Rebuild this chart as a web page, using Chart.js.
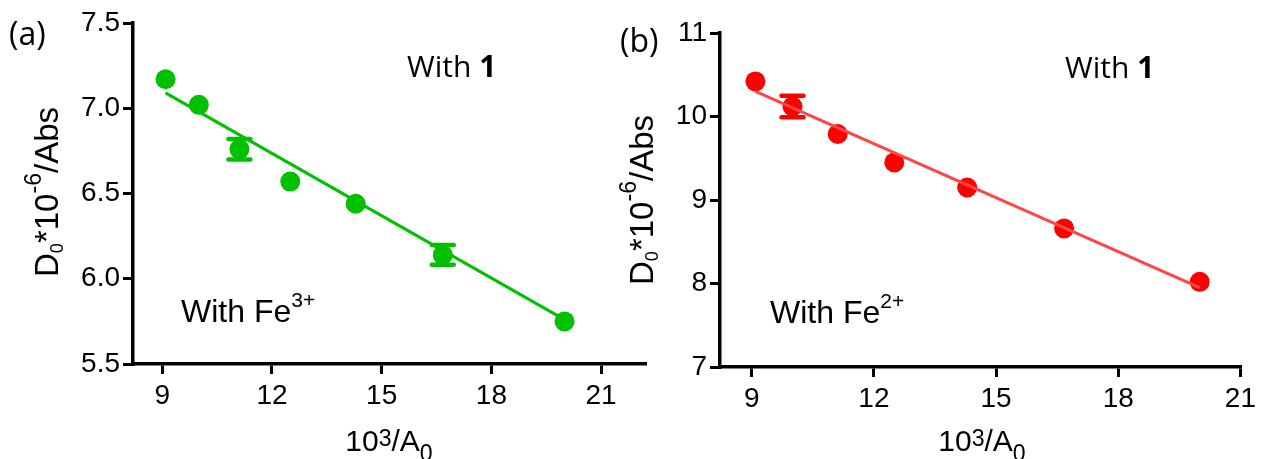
<!DOCTYPE html>
<html>
<head>
<meta charset="utf-8">
<script src="https://cdn.jsdelivr.net/npm/chart.js@4/dist/chart.umd.min.js"></script>
<style>
    html, body { margin: 0; padding: 0; background: #fff; }
    #wrap { position: relative; width: 1261px; height: 459px; overflow: hidden; }
    canvas { position: absolute; top: 0; }
    #chartA { left: 0; }
    #chartB { left: 600px; }
    .lbl { position: absolute; white-space: nowrap; line-height: 1; color: #000; }
    .arial { font-family: "Liberation Sans", Arial, sans-serif; }
    .open { font-family: "Open Sans", sans-serif; }
    .xt { font-size: 30px; top: 426px; transform: translateX(-50%); }
    .xt .sp { font-size: .77em; position: relative; top: -.22em; }
    .xt .sb { font-size: .77em; position: relative; top: .43em; }
    .yt { font-size: 33px; transform: translate(-50%, -50%) rotate(-90deg); }
    .yt .sp { font-size: .7em; position: relative; top: -.75em; }
    .yt .sb { font-size: .55em; position: relative; top: .28em; }
    .fe { font-size: 32px; }
    .fe .sp { font-size: .66em; position: relative; top: -.73em; }
    .w1 { font-size: 30px; }
    .pl { font-size: 32px; }
</style>
</head>
<body>
<div id="wrap">
    <canvas id="chartA" width="660" height="459"></canvas>
    <canvas id="chartB" width="661" height="459"></canvas>

    <div class="lbl open pl" style="left:9px; top:17px;">(a)</div>
    <div class="lbl open pl" style="left:620px; top:24px;">(b)</div>

    <div class="lbl open w1" style="left:407px; top:51px;">With <b>1</b></div>
    <div class="lbl open w1" style="left:1065px; top:52px;">With <b>1</b></div>

    <div class="lbl arial fe" style="left:181px; top:295px;">With Fe<span class="sp">3+</span></div>
    <div class="lbl arial fe" style="left:770px; top:296px;">With Fe<span class="sp">2+</span></div>

    <div class="lbl arial xt" style="left:389px;">10<span class="sp">3</span>/A<span class="sb">0</span></div>
    <div class="lbl arial xt" style="left:982px;">10<span class="sp">3</span>/A<span class="sb">0</span></div>

    <div class="lbl arial yt" style="left:46px; top:192px;">D<span class="sb">0</span>*10<span class="sp">-6</span>/Abs</div>
    <div class="lbl arial yt" style="left:641px; top:200px;">D<span class="sb">0</span>*10<span class="sp">-6</span>/Abs</div>
</div>

<script>
// x values are 10^3/A0 for both panels
const xVals = [9.09, 10.0, 11.11, 12.5, 14.29, 16.67, 20.0];
const xTicks = [9, 12, 15, 18, 21];

// (a) with Fe3+
const yA = [7.17, 7.02, 6.76, 6.57, 6.44, 6.14, 5.75];
const errA = [0, 0, 0.06, 0, 0, 0.058, 0];
const fitXA = [9.09, 20.0];
const fitYA = [7.09, 5.76];
const yTicksA = [5.5, 6.0, 6.5, 7.0, 7.5];

// (b) with Fe2+
const yB = [10.42, 10.12, 9.79, 9.45, 9.15, 8.66, 8.02];
const errB = [0, 0.13, 0, 0, 0, 0, 0];
const fitXB = [9.09, 20.0];
const fitYB = [10.30, 7.95];
const yTicksB = [7, 8, 9, 10, 11];

const tickFont = { family: '"Liberation Sans Narrow", "Liberation Sans", Arial, sans-serif', size: 28 };

const errorBars = {
    id: 'errorBars',
    beforeDatasetsDraw(chart, args, opts) {
        const ctx = chart.ctx;
        const xs = chart.scales.x, ys = chart.scales.y;
        ctx.save();
        ctx.strokeStyle = opts.color;
        ctx.lineCap = 'round';
        opts.x.forEach((xv, i) => {
            const e = opts.err[i];
            if (!e) return;
            const px = xs.getPixelForValue(xv);
            const top = ys.getPixelForValue(opts.y[i] + e);
            const bot = ys.getPixelForValue(opts.y[i] - e);
            ctx.lineWidth = 3;
            ctx.beginPath();
            ctx.moveTo(px, top);
            ctx.lineTo(px, bot);
            ctx.stroke();
            ctx.lineWidth = 4.5;
            ctx.beginPath();
            ctx.moveTo(px - 11, top); ctx.lineTo(px + 11, top);
            ctx.moveTo(px - 11, bot); ctx.lineTo(px + 11, bot);
            ctx.stroke();
        });
        ctx.restore();
    }
};

function makePanel(id, p) {
    const toXY = (xs, ys) => xs.map((v, i) => ({ x: v, y: ys[i] }));
    return new Chart(document.getElementById(id), {
        type: 'scatter',
        data: {
            datasets: [
                {
                    type: 'line',
                    data: toXY(p.fitX, p.fitY),
                    borderColor: p.lineColor,
                    borderWidth: 3,
                    pointRadius: 0,
                    fill: false
                },
                {
                    data: toXY(xVals, p.y),
                    backgroundColor: p.color,
                    borderColor: p.color,
                    pointRadius: 10,
                    pointHoverRadius: 10,
                    borderWidth: 0
                }
            ]
        },
        options: {
            responsive: false,
            animation: false,
            devicePixelRatio: 1,
            layout: { padding: p.padding },
            plugins: {
                legend: { display: false },
                tooltip: { enabled: false },
                errorBars: { x: xVals, y: p.y, err: p.err, color: p.color }
            },
            scales: {
                x: {
                    type: 'linear',
                    min: p.xMin,
                    max: p.xMax,
                    afterBuildTicks: s => { s.ticks = xTicks.map(v => ({ value: v })); },
                    afterFit: s => { s.height = p.xHeight; },
                    ticks: { font: tickFont, color: '#000', padding: 5, maxRotation: 0, callback: v => v },
                    grid: { drawOnChartArea: false, drawTicks: true, tickLength: 10, color: '#000', lineWidth: 3 },
                    border: { color: '#000', width: 3.5 }
                },
                y: {
                    type: 'linear',
                    min: p.yMin,
                    max: p.yMax,
                    afterBuildTicks: s => { s.ticks = p.yTicks.map(v => ({ value: v })); },
                    afterFit: s => { s.width = p.yWidth; },
                    ticks: { font: tickFont, color: '#000', padding: 3, callback: p.fmt },
                    grid: { drawOnChartArea: false, drawTicks: true, tickLength: 10, color: '#000', lineWidth: 3 },
                    border: { color: '#000', width: 3.5 }
                }
            }
        },
        plugins: [errorBars]
    });
}

makePanel('chartA', {
    y: yA, err: errA, fitX: fitXA, fitY: fitYA, yTicks: yTicksA,
    color: 'rgb(0,192,0)', lineColor: 'rgb(0,192,0)',
    xMin: 8.2, xMax: 22.2, yMin: 5.5, yMax: 7.5,
    padding: { left: 0, top: 23, right: 15, bottom: 0 },
    yWidth: 133, xHeight: 95,
    fmt: v => v.toFixed(1)
});

makePanel('chartB', {
    y: yB, err: errB, fitX: fitXB, fitY: fitYB, yTicks: yTicksB,
    color: 'rgb(255,0,0)', lineColor: 'rgb(255,70,70)',
    xMin: 8.22, xMax: 21, yMin: 7, yMax: 11,
    padding: { left: 0, top: 33, right: 18, bottom: 0 },
    yWidth: 120, xHeight: 92,
    fmt: v => v
});
</script>
</body>
</html>
